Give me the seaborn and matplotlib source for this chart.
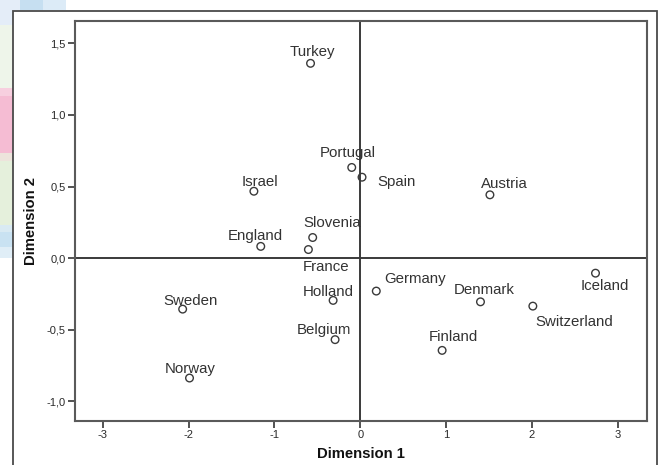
import matplotlib
matplotlib.use("Agg")
import matplotlib.pyplot as plt
import seaborn as sns
import pandas as pd
from matplotlib.patches import Rectangle

countries = ["Turkey", "Portugal", "Spain", "Israel", "Slovenia", "England", "France",
             "Austria", "Germany", "Denmark", "Iceland", "Switzerland", "Finland",
             "Sweden", "Holland", "Belgium", "Norway"]
dim1 = [-0.58, -0.10, 0.02, -1.24, -0.555, -1.16, -0.605,
        1.51, 0.186, 1.40, 2.74, 2.01, 0.953,
        -2.07, -0.317, -0.294, -1.99]
dim2 = [1.36, 0.633, 0.565, 0.467, 0.144, 0.082, 0.06,
        0.442, -0.23, -0.305, -0.105, -0.335, -0.644,
        -0.356, -0.295, -0.569, -0.837]
xticks = [-3, -2, -1, 0, 1, 2, 3]
xtick_labels = ["-3", "-2", "-1", "0", "1", "2", "3"]
yticks = [-1.0, -0.5, 0.0, 0.5, 1.0, 1.5]
ytick_labels = ["-1,0", "-0,5", "0,0", "0,5", "1,0", "1,5"]

# label offsets in pixels (dx, dy up)
label_offsets = {
    "Turkey": (2, 11), "Portugal": (-4, 14), "Spain": (35, -5), "Israel": (6, 9),
    "Slovenia": (19, 15), "England": (-5, 10), "France": (18, -17), "Austria": (14, 11),
    "Germany": (39, 12), "Denmark": (4, 12), "Iceland": (9, -13), "Switzerland": (41, -16),
    "Finland": (11, 13), "Sweden": (8, 8), "Holland": (-5, 8), "Belgium": (-11, 10),
    "Norway": (1, 9),
}

df = pd.DataFrame({"Dimension 1": dim1, "Dimension 2": dim2, "country": countries})

sns.set_style("white")
plt.rcParams["font.family"] = ["Liberation Sans", "DejaVu Sans"]

W, H = 659, 465
fig = plt.figure(figsize=(W / 100, H / 100), dpi=100)
fig.patch.set_facecolor("white")

def frect(x0, y0, x1, y1, color):
    fig.patches.append(Rectangle((x0 / W, 1 - y1 / H), (x1 - x0) / W, (y1 - y0) / H,
                                 transform=fig.transFigure, facecolor=color,
                                 edgecolor="none", zorder=0))

# decorative background strips
frect(0, 0, 20, 10, "#e4edf8")
frect(20, 0, 43, 10, "#c6dff1")
frect(43, 0, 66, 10, "#dcebf7")
frect(0, 10, 13, 25, "#e4edf8")
frect(0, 25, 13, 88, "#eef5ea")
frect(0, 88, 13, 96, "#f7cfdf")
frect(0, 96, 13, 153, "#f5bcd3")
frect(0, 153, 13, 161, "#ede4dc")
frect(0, 161, 13, 225, "#e5f0dc")
frect(0, 225, 13, 232, "#d9eaf3")
frect(0, 232, 13, 247, "#c9e2f2")
frect(0, 247, 13, 258, "#e0eef7")

# outer frame
fig.patches.append(Rectangle((13 / W, -0.05), (657 - 13) / W, 1 - 10.5 / H + 0.05,
                             transform=fig.transFigure, facecolor="white",
                             edgecolor="#4a4a4a", linewidth=1.3, zorder=1))

ax = fig.add_axes([74.5 / W, 1 - 421 / H, (647 - 74.5) / W, (421 - 21.5) / H])
ax.set_zorder(2)
ax.patch.set_facecolor("white")

sns.scatterplot(data=df, x="Dimension 1", y="Dimension 2", ax=ax, s=30,
                marker="o", zorder=3, legend=False)
pts = ax.collections[0]
pts.set_facecolor("none")
pts.set_edgecolor("#3a3a3a")
pts.set_linewidth(1.0)

ax.axhline(0, color="#3a3a3a", linewidth=1.4, zorder=2)
ax.axvline(0, color="#3a3a3a", linewidth=1.4, zorder=2)

for name, x, y in zip(countries, dim1, dim2):
    dx, dy = label_offsets[name]
    ax.annotate(name, (x, y), xytext=(dx * 0.72, dy * 0.72), textcoords="offset points",
                ha="center", va="center", fontsize=10.8, color="#333333", zorder=4)

ax.set_xlim(-3.33, 3.34)
ax.set_ylim(-1.137, 1.652)
ax.set_xticks(xticks)
ax.set_xticklabels(xtick_labels)
ax.set_yticks(yticks)
ax.set_yticklabels(ytick_labels)
ax.tick_params(axis="both", direction="out", length=5, width=1.3, color="#444444",
               labelsize=8, labelcolor="#2a2a2a", pad=1.5, bottom=True, left=True)

for sp in ax.spines.values():
    sp.set_color("#5a5a5a")
    sp.set_linewidth(1.5)
    sp.set_visible(True)

ax.set_xlabel("Dimension 1", fontsize=10.7, fontweight="bold", color="#111111", labelpad=5)
ax.set_ylabel("Dimension 2", fontsize=10.7, fontweight="bold", color="#111111", labelpad=6)

fig.savefig("out.png", dpi=100, facecolor="white")
